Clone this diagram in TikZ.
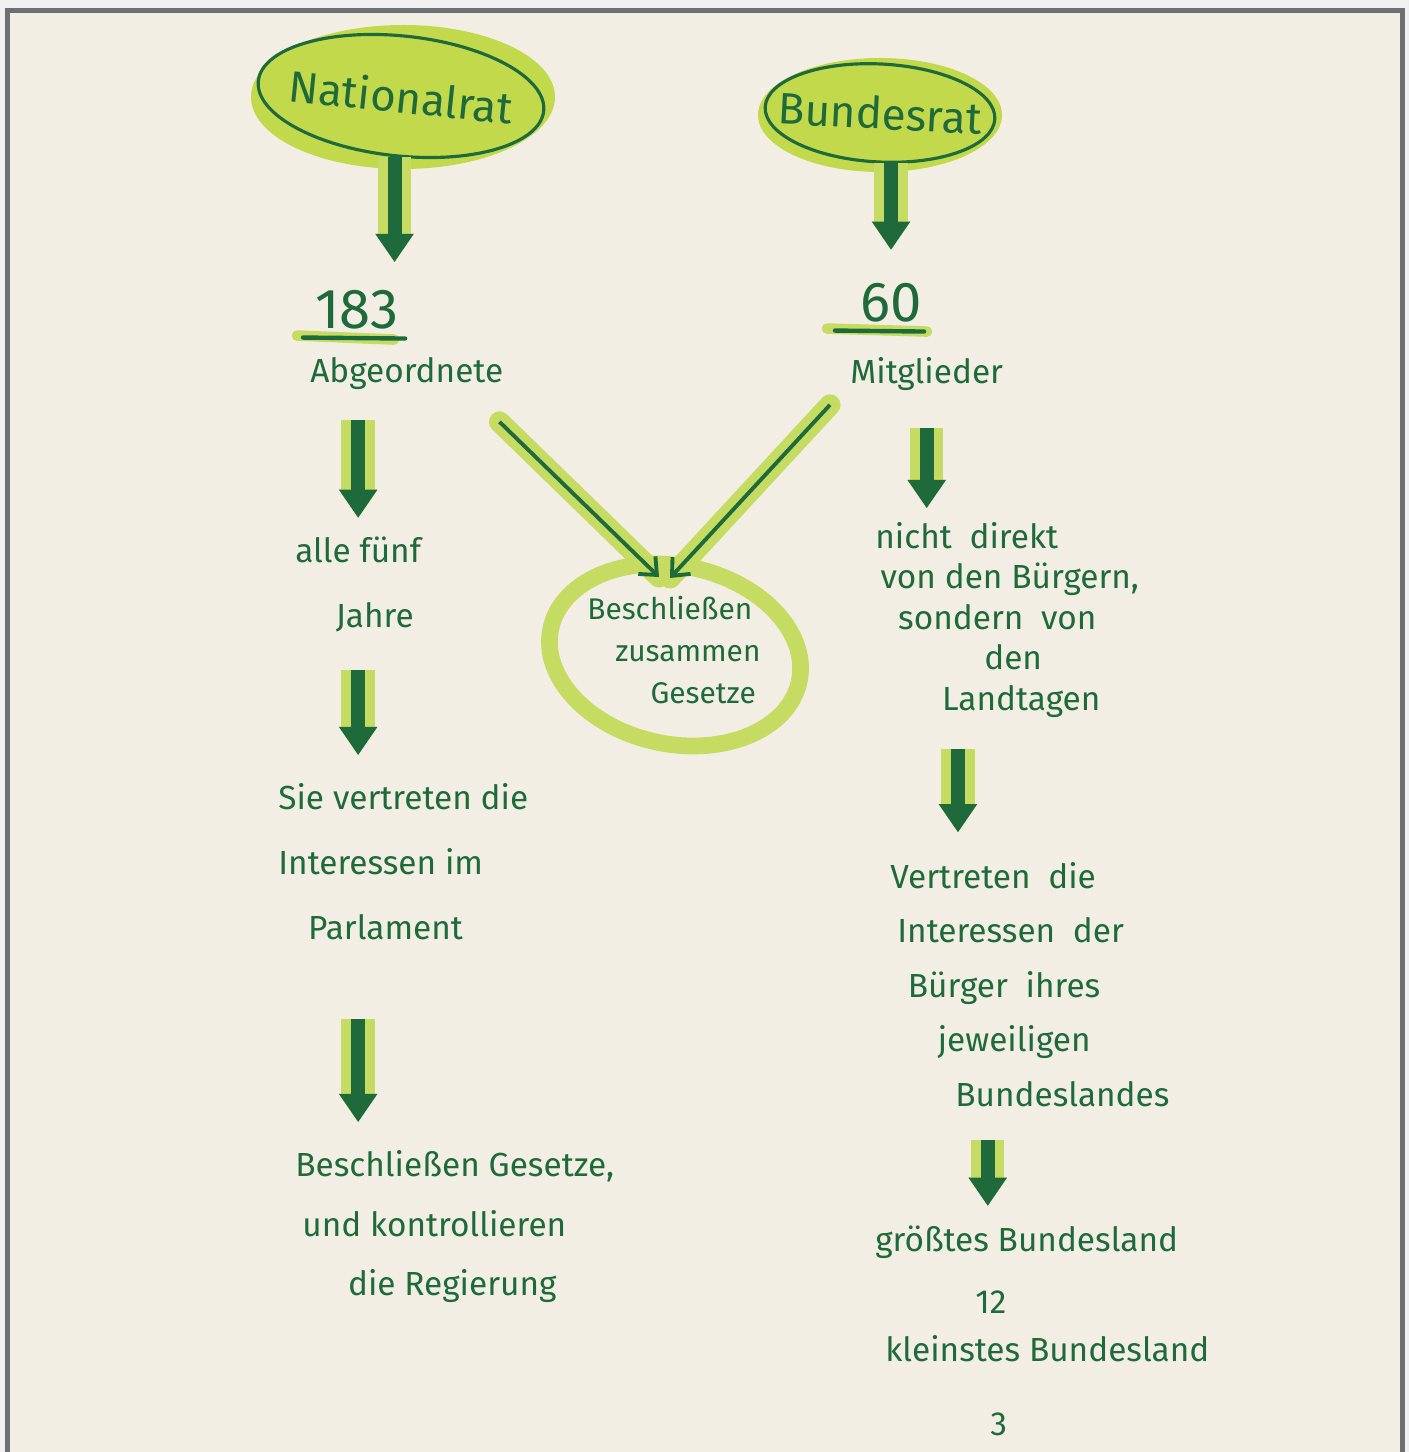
\documentclass[tikz,border=0pt]{standalone}
\usepackage{fontspec}
\setmainfont{Fira Sans}
\usetikzlibrary{arrows.meta,shapes.geometric}

\definecolor{paper}{HTML}{F2EEE3}
\definecolor{rahmen}{HTML}{6E6F73}
\definecolor{ink}{HTML}{1E6A3B}
\definecolor{leaf}{HTML}{C6DB62}
\definecolor{blob}{HTML}{C3D94C}

\tikzset{
    hand/.style={text=ink, inner sep=0pt, font=\fontsize{19}{23}\selectfont},
    titel/.style={ellipse, draw=ink, line width=1.8pt, fill=blob, text=ink,
        inner xsep=-20pt, font=\fontsize{25}{30}\selectfont},
    zahl/.style={text=ink, inner sep=0pt, font=\fontsize{32}{36}\selectfont},
    flow/.style={ink, line width=8pt,
        -{Triangle[width=22pt,length=16pt,line width=0pt]},
        preaction={draw=leaf, line width=19pt}},
    merge/.style={ink, line width=2.2pt,
        -{Straight Barb[width=14pt,length=8pt]},
        preaction={draw=leaf, line width=12pt, line cap=round, -}}
}

\begin{document}
\begin{tikzpicture}[x=0.02cm,y=-0.02cm]

            %---------------- BLATT ----------------
            \useasboundingbox (0,0) rectangle (1409,1452);
            \clip (0,0) rectangle (1409,1452);
            \fill[gray!12] (0,0) rectangle (1409,1452);
            \draw[rahmen, line width=2.83pt, fill=paper]
            (7.5,10.5) rectangle (1402.5,1480);

            %---------------- KOEPFE ----------------
            % Farbfleck hinter den Umrissen
            \fill[blob] (403,97) ellipse (152 and 72);
            \fill[blob] (880,115) ellipse (122 and 57);

            \node[titel, rotate=-6, minimum width=5.74cm, minimum height=2.4cm]
            (nr) at (401,96) {Nationalrat};

            \node[titel, rotate=-3, minimum width=4.6cm, minimum height=1.96cm]
            (br) at (880,113) {Bundesrat};

            %---------------- LINKE SEITE ----------------
            \node[zahl, anchor=north west] (n183) at (315,290) {183};
            \node[hand, anchor=north west] (abg) at (310,357) {Abgeordnete};

            \node[hand, anchor=north west, align=left, font=\fontsize{19}{37}\selectfont]
            (fuenf) at (295,537) {alle fünf\\\hspace{23pt}Jahre};

            \node[hand, anchor=north west, align=left, font=\fontsize{19}{37}\selectfont]
            (sie) at (278,783) {Sie vertreten die\\Interessen im\\\hspace{17pt}Parlament};

            \node[hand, anchor=north west, align=left, font=\fontsize{19}{34}\selectfont]
            (besch) at (295,1150)
            {Beschließen Gesetze,\\\hspace{4pt}und kontrollieren\\\hspace{30pt}die Regierung};

            %---------------- RECHTE SEITE ----------------
            \node[zahl, anchor=north west] (n60) at (860,283) {60};
            \node[hand, anchor=north west] (mit) at (850,357) {Mitglieder};

            \node[hand, anchor=north west, align=left]
            (nicht) at (875,522)
            {nicht \ direkt\\\hspace{3pt}von den Bürgern,\\\hspace{13pt}sondern \ von\\
             \hspace{62pt}den\\\hspace{38pt}Landtagen};

            \node[hand, anchor=north west, align=left, font=\fontsize{19}{31}\selectfont]
            (vertr) at (890,862)
            {Vertreten \ die\\\hspace{4pt}Interessen \ der\\\hspace{10pt}Bürger \ ihres\\
             \hspace{27pt}jeweiligen\\\hspace{37pt}Bundeslandes};

            \node[hand, anchor=north west] (gross) at (875,1225) {größtes Bundesland};
            \node[hand, anchor=north west] (zwoelf) at (975,1290) {12};
            \node[hand, anchor=north west] (klein) at (885,1335) {kleinstes Bundesland};
            \node[hand, anchor=north west] (drei) at (990,1412) {3};

            %---------------- MITTE ----------------
            \node[ellipse, draw=leaf, line width=9.5pt, minimum width=5.08cm,
                minimum height=3.56cm, rotate=-12]
            (ring) at (675,655) {};

            \node[hand, anchor=north west, align=left, font=\fontsize{17}{24}\selectfont]
            (ges) at (587,596)
            {Beschließen\\\hspace{16pt}zusammen\\\hspace{36pt}Gesetze};

            %---------------- UNTERSTRICHE ----------------
            \draw[leaf, line width=6pt, line cap=round]
            ([shift={(-18,6)}]n183.south west) -- ([shift={(-5,10)}]n183.south east);
            \draw[ink, line width=2.5pt, line cap=round]
            ([shift={(-12,8)}]n183.south west) -- ([shift={(6,9)}]n183.south east);

            \draw[leaf, line width=6pt, line cap=round]
            ([shift={(-33,6)}]n60.south west) -- ([shift={(5,9)}]n60.south east);
            \draw[ink, line width=2.5pt, line cap=round]
            ([shift={(-25,8)}]n60.south west) -- ([shift={(2,9)}]n60.south east);

            %---------------- PFEILE ----------------
            \draw[flow, shorten >=16pt] (nr.south) -- (nr.south |- n183.north);
            \draw[flow, shorten >=19pt] (n60.north |- br.south) -- (n60.north);

            \draw[flow, shorten <=17pt, shorten >=11pt]
            (fuenf.north |- abg.south) -- (fuenf.north);
            \draw[flow, shorten <=21pt, shorten >=16pt]
            (fuenf.south) -- (fuenf.south |- sie.north);
            \draw[flow, shorten <=45pt, shorten >=16pt]
            (sie.south -| fuenf.south) -- (fuenf.south |- besch.north);

            \draw[flow, shorten <=21pt, shorten >=8pt]
            (mit.south) -- (mit.south |- nicht.north);
            \draw[flow, shorten <=18pt, shorten >=17pt]
            ([xshift=-28pt]nicht.south) -- ([xshift=-28pt]nicht.south |- vertr.north);
            \draw[flow, shorten <=19pt, shorten >=11pt]
            ([xshift=-24pt]vertr.south) -- ([xshift=-24pt]vertr.south |- gross.north);

            % beide treffen sich oben am Kreis
            \coordinate (meetl) at (659,577);
            \coordinate (meetr) at (670,578);
            \draw[merge] ([shift={(-4,32)}]abg.south east) -- (meetl);
            \draw[merge] ([shift={(-20,14)}]mit.south west) -- (meetr);

\end{tikzpicture}
\end{document}
